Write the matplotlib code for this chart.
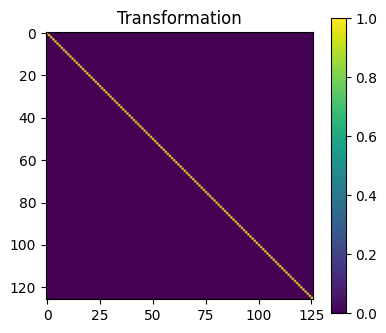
import numpy as np
import matplotlib
matplotlib.use("Agg")
import matplotlib.pyplot as plt

# identity transformation matrix
n = 126
T = np.eye(n)
title = "Transformation"

W, H = 386, 333
fig = plt.figure(figsize=(W / 100, H / 100), dpi=100)
ax = fig.add_axes([46 / W, 1 - 299 / H, 266.5 / W, 267 / H])
cax = fig.add_axes([330.5 / W, 1 - 313.3 / H, 15.2 / W, 295 / H])

im = ax.imshow(T, cmap="viridis", aspect="auto")
ax.set_title(title)
fig.colorbar(im, cax=cax)

fig.savefig("out.png", dpi=100)
